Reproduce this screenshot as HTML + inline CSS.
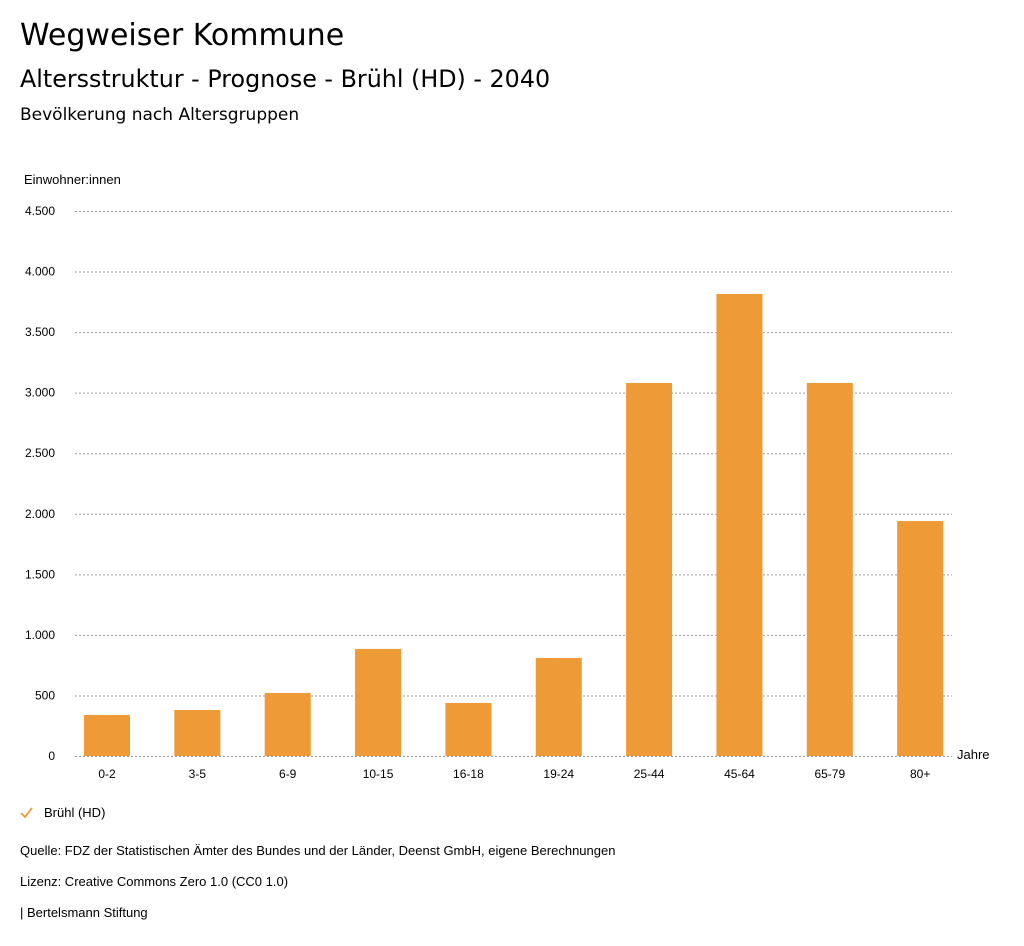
<!DOCTYPE html>
<html><head><meta charset="utf-8">
<style>
body{margin:0;background:#fff;font-family:"Liberation Sans",sans-serif;color:#000;}
.wrap{position:relative;width:1024px;height:946px;overflow:hidden;}
.t{position:absolute;left:20px;white-space:nowrap;}
.d{font-family:"DejaVu Sans",sans-serif;}
</style></head><body>
<div class="wrap">
<div class="t d" style="top:18px;font-size:30px;">Wegweiser Kommune</div>
<div class="t d" style="top:65px;font-size:23.8px;">Altersstruktur - Prognose - Brühl (HD) - 2040</div>
<div class="t d" style="top:105px;font-size:17px;">Bevölkerung nach Altersgruppen</div>
<svg id="chart" width="1024" height="946" style="position:absolute;left:0;top:0"></svg>
<div class="t" style="top:843px;font-size:13px;">Quelle: FDZ der Statistischen Ämter des Bundes und der Länder, Deenst GmbH, eigene Berechnungen</div>
<div class="t" style="top:874px;font-size:13px;">Lizenz: Creative Commons Zero 1.0 (CC0 1.0)</div>
<div class="t" style="top:905px;font-size:13px;">| Bertelsmann Stiftung</div>
</div>
<script>
const categories=["0-2","3-5","6-9","10-15","16-18","19-24","25-44","45-64","65-79","80+"];
const values=[339,380,520,884,438,809,3080,3815,3080,1940];
const ticks=[0,500,1000,1500,2000,2500,3000,3500,4000,4500];
const tickLabels=["0","500","1.000","1.500","2.000","2.500","3.000","3.500","4.000","4.500"];
const NS="http://www.w3.org/2000/svg";
const svg=document.getElementById('chart');
const y0=756,yTop=211,maxV=4500;
const y=v=>y0-(v/maxV)*(y0-yTop);
const x=i=>107+i*90.35;
function mk(t,a,txt){const e=document.createElementNS(NS,t);for(const k in a)e.setAttribute(k,a[k]);if(txt!==undefined)e.textContent=txt;svg.appendChild(e);return e;}
ticks.forEach((t,i)=>{
  const l=mk('line',{x1:75,x2:952,y1:y(t)+0.5,y2:y(t)+0.5,stroke:'#999','stroke-width':1,'stroke-dasharray':'2,2'});
  
  
  const tx=mk('text',{x:55,y:y(t)+4,'text-anchor':'end','font-size':12,fill:'#000'},tickLabels[i]);
  
  
});
const yt=mk('text',{x:24,y:184,'font-size':13,fill:'#000'},'Einwohner:innen');


const xt=mk('text',{x:957,y:759,'font-size':13,fill:'#000'},'Jahre');


categories.forEach((c,i)=>{
  const r=mk('rect',{x:x(i)-23,y:y(values[i]),width:46,height:y0-y(values[i]),fill:'#ee9a36'});
  
  
  const t=mk('text',{x:x(i),y:778,'text-anchor':'middle','font-size':12,fill:'#000'},c);
  
  
});
const chk=mk('path',{d:'M21 813 L25 817 L32 808',fill:'none',stroke:'#ee9a36','stroke-width':1.8});


const lg=mk('text',{x:44,y:817,'font-size':13,fill:'#000'},'Brühl (HD)');


</script>
</body></html>
